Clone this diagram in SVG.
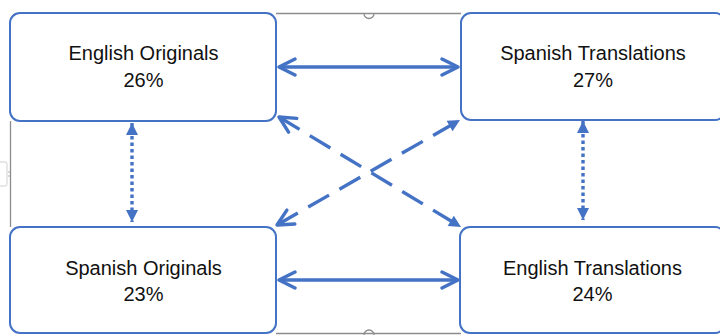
<svg xmlns="http://www.w3.org/2000/svg" width="720" height="335" viewBox="0 0 720 335">
<style>
.box{fill:#fff;stroke:#4472C4;stroke-width:2}
.lbl{font-family:"Liberation Sans",Arial,sans-serif;font-size:20px;fill:#111;text-anchor:middle}
.sel{fill:none;stroke:#8c8c8c;stroke-width:1.3}
.conn{fill:none;stroke:#4472C4;stroke-width:3.4}
.dot{stroke-dasharray:3.5 3}
.dash{stroke-dasharray:24 12}
</style>
<defs>
<marker id="open" markerUnits="userSpaceOnUse" viewBox="0 0 20 20" refX="18" refY="10" markerWidth="20" markerHeight="20" orient="auto-start-reverse">
<path d="M2,2 L18,10 L2,18" fill="none" stroke="#4472C4" stroke-width="3.4" stroke-linecap="round" stroke-linejoin="round"/>
</marker>
<marker id="tri" markerUnits="userSpaceOnUse" viewBox="0 0 14 14" refX="13" refY="7" markerWidth="14" markerHeight="14" orient="auto-start-reverse">
<path d="M1,1 L13,7 L1,13 Z" fill="#4472C4"/>
</marker>
</defs>
<rect width="720" height="335" fill="#fff"/>
<g id="selection">
<path class="sel" d="M276,13.5 H461"/>
<path class="sel" d="M10.5,121 V227"/>
<path class="sel" d="M276,333.5 H461"/>
<path class="sel" d="M10.5,22 Q11,14 18,13.5"/>
<path class="sel" d="M364,13.5 A5,5 0 0 0 374,13.5" fill="#fff"/>
<path class="sel" d="M364,335 A5,5 0 0 1 374,335" fill="#fff"/>
<rect x="-2" y="162" width="9" height="24" rx="2" fill="#fff" stroke="#d0d0d0" stroke-width="1"/>
<circle cx="9" cy="172" r="0.7" fill="#999"/>
<circle cx="9" cy="176" r="0.7" fill="#999"/>
</g>
<g id="connectors">
<line class="conn" x1="279" y1="67" x2="458" y2="67" marker-start="url(#open)" marker-end="url(#open)"/>
<line class="conn" x1="279" y1="280" x2="458" y2="280" marker-start="url(#open)" marker-end="url(#open)"/>
<line class="conn dot" x1="132" y1="123" x2="132" y2="222" marker-start="url(#tri)" marker-end="url(#tri)"/>
<line class="conn dot" x1="583" y1="121" x2="583" y2="220" marker-start="url(#tri)" marker-end="url(#tri)"/>
<line class="conn dash" x1="279" y1="117" x2="461" y2="227" marker-start="url(#open)" marker-end="url(#tri)"/>
<line class="conn dash" x1="277" y1="225" x2="460" y2="120" marker-start="url(#open)" marker-end="url(#tri)"/>
</g>
<g id="english-originals">
<rect class="box" x="10" y="13" width="266" height="108" rx="10"/>
<text class="lbl" x="143.5" y="60">English Originals</text>
<text class="lbl" x="143.5" y="87">26%</text>
</g>
<g id="spanish-translations">
<rect class="box" x="461" y="13" width="264" height="107" rx="10"/>
<text class="lbl" x="593" y="60">Spanish Translations</text>
<text class="lbl" x="593" y="87">27%</text>
</g>
<g id="spanish-originals">
<rect class="box" x="10" y="227" width="266" height="106" rx="10"/>
<text class="lbl" x="143.5" y="275">Spanish Originals</text>
<text class="lbl" x="143.5" y="301">23%</text>
</g>
<g id="english-translations">
<rect class="box" x="460" y="227" width="265" height="106" rx="10"/>
<text class="lbl" x="592.5" y="275">English Translations</text>
<text class="lbl" x="592.5" y="301">24%</text>
</g>
</svg>
